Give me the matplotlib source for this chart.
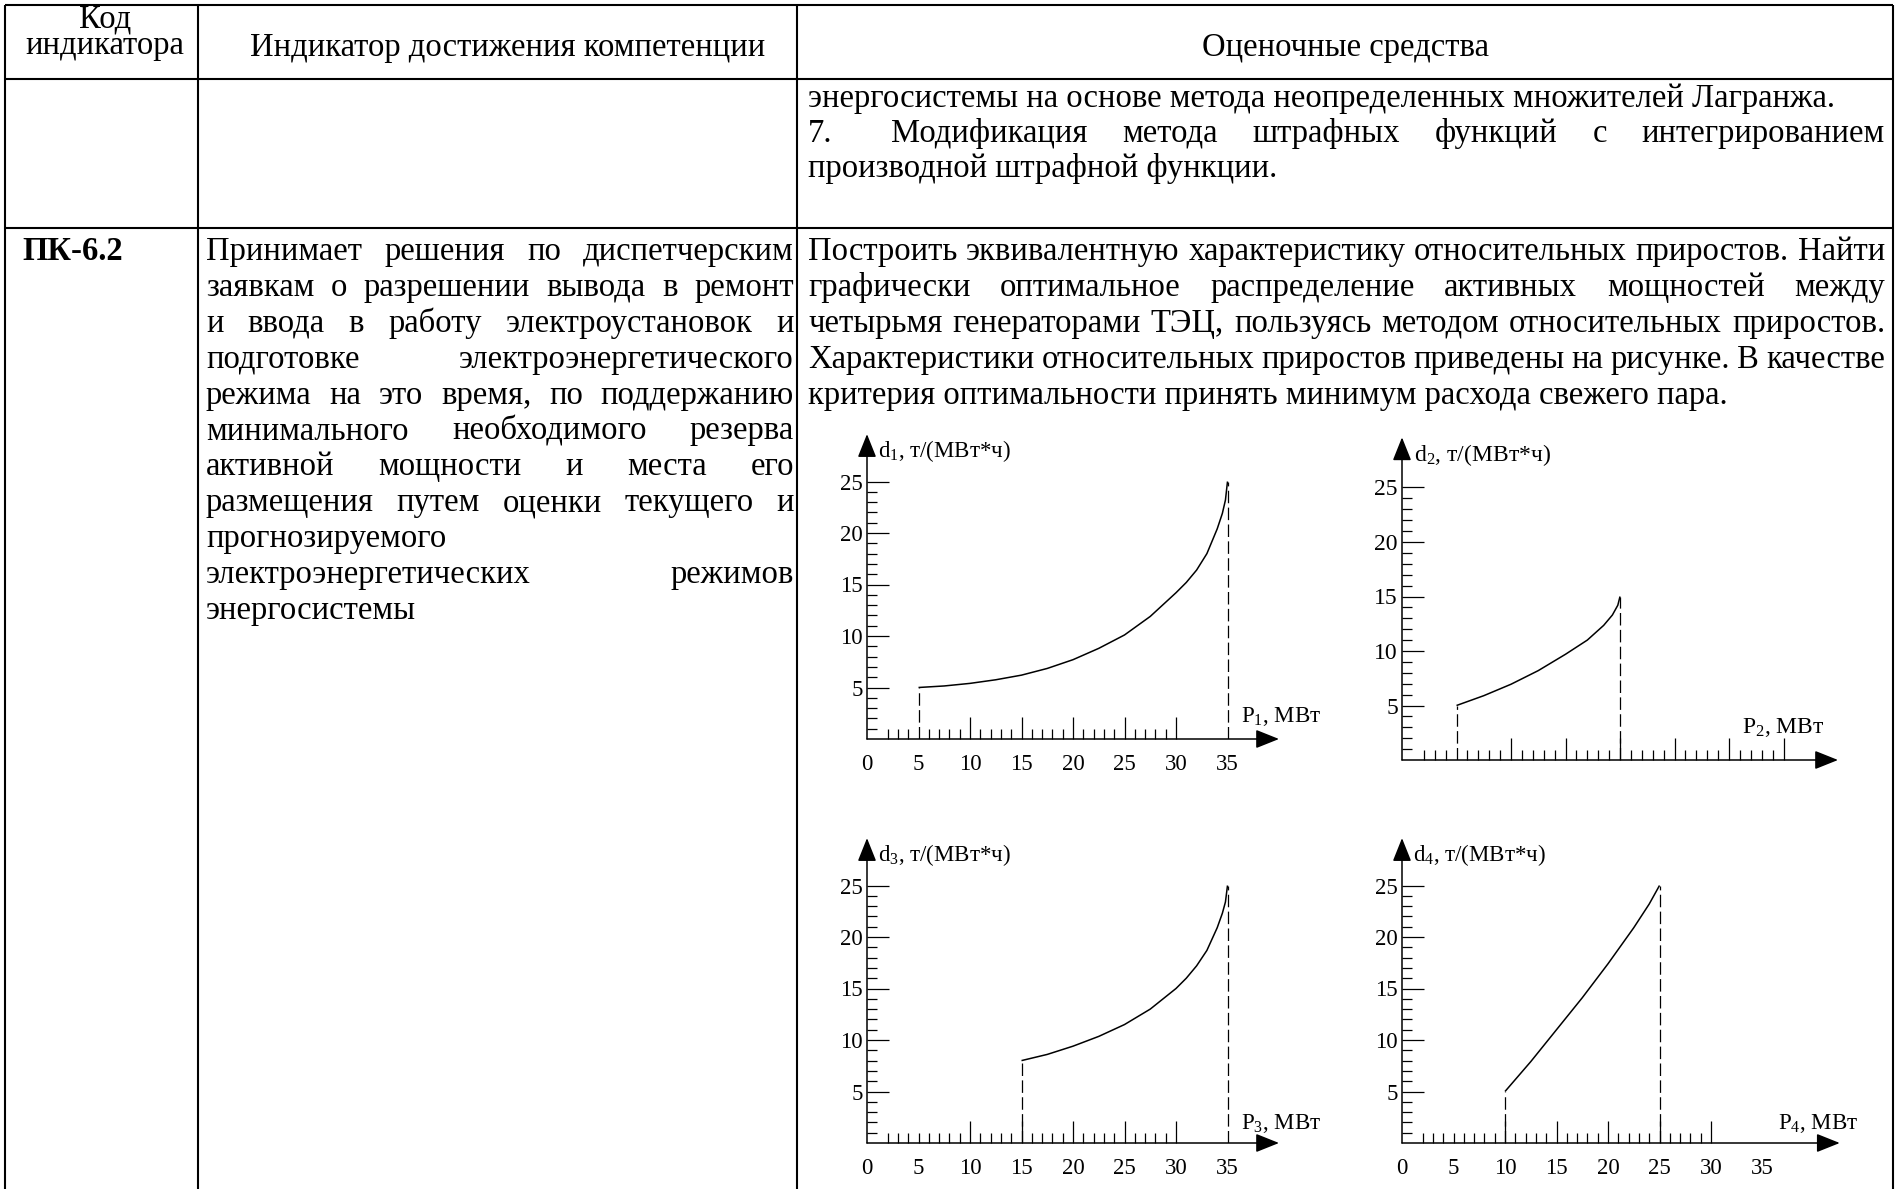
import matplotlib
matplotlib.use('Agg')
import matplotlib.pyplot as plt

W, H, DPI = 1901, 1189, 100

plt.rcParams['font.family'] = ['Liberation Serif', 'DejaVu Serif']
plt.rcParams['mathtext.fontset'] = 'custom'
plt.rcParams['mathtext.rm'] = 'Liberation Serif'
plt.rcParams['mathtext.it'] = 'Liberation Serif:italic'

# ---- table text ----
head_code = ['Код', 'индикатора']
head_ind = 'Индикатор достижения компетенции'
head_eval = 'Оценочные средства'
code = 'ПК-6.2'
# (line, justified?)
row2_eval = [
    ('энергосистемы на основе метода неопределенных множителей Лагранжа.', False),
    ('7.\tМодификация метода штрафных функций с интегрированием', True),
    ('производной штрафной функции.', False),
]
row3_ind = [
    ('Принимает решения по диспетчерским', True),
    ('заявкам о разрешении вывода в ремонт', True),
    ('и ввода в работу электроустановок и', True),
    ('подготовке электроэнергетического', True),
    ('режима на это время, по поддержанию', True),
    ('минимального необходимого резерва', True),
    ('активной мощности и места его', True),
    ('размещения путем оценки текущего и', True),
    ('прогнозируемого', False),
    ('электроэнергетических режимов', True),
    ('энергосистемы', False),
]
row3_eval = [
    ('Построить эквивалентную характеристику относительных приростов. Найти', True),
    ('графически оптимальное распределение активных мощностей между', True),
    ('четырьмя генераторами ТЭЦ, пользуясь методом относительных приростов.', True),
    ('Характеристики относительных приростов приведены на рисунке. В качестве', True),
    ('критерия оптимальности принять минимум расхода свежего пара.', False),
]

# ---- chart data: P (MW) vs d (t/(MW*h)) ----
p1 = [5, 7.5, 10, 12.5, 15, 17.5, 20, 22.5, 25, 27.5, 30, 31, 32, 33, 34, 34.5, 34.8, 35]
d1 = [5, 5.15, 5.4, 5.75, 6.2, 6.85, 7.7, 8.8, 10.1, 11.9, 14.2, 15.2, 16.4, 18.0, 20.4, 21.9, 23.2, 25]
p2 = [5, 7.5, 10, 12.5, 15, 17, 18.5, 19.3, 19.8, 20]
d2 = [5, 5.9, 6.95, 8.2, 9.7, 11.0, 12.35, 13.3, 14.2, 15.0]
p3 = [15, 17.5, 20, 22.5, 25, 27.5, 30, 31, 32, 33, 34, 34.5, 34.8, 35]
d3 = [8, 8.6, 9.4, 10.35, 11.5, 13.0, 15.0, 16.0, 17.2, 18.7, 20.9, 22.3, 23.4, 25]
p4 = [10, 12.5, 15, 17.5, 20, 22.5, 24, 25]
d4 = [5, 7.9, 11.0, 14.1, 17.4, 20.9, 23.2, 25]

x_labels = [0, 5, 10, 15, 20, 25, 30, 35]
y_labels = [5, 10, 15, 20, 25]

FS = 23.5

fig = plt.figure(figsize=(W / DPI, H / DPI), dpi=DPI)
tab = fig.add_axes([0, 0, 1, 1])
tab.set_xlim(0, W)
tab.set_ylim(H, 0)
tab.axis('off')

# table grid
tab.hlines([5, 79, 228], 5, 1893, colors='k', lw=1.5)
tab.vlines([5, 198, 797, 1893], 5, H, colors='k', lw=1.5)

r = fig.canvas.get_renderer()


def put_line(text, x0, x1, y, justify, **kw):
    if not justify:
        tab.text(x0, y, text, ha='left', va='baseline', fontsize=FS, **kw)
        return
    if '\t' in text:
        first, text = text.split('\t')
        tab.text(x0, y, first, ha='left', va='baseline', fontsize=FS, **kw)
        x0 = x0 + 83
    words = text.split()
    arts = [tab.text(0, y, w, ha='left', va='baseline', fontsize=FS, **kw) for w in words]
    widths = [a.get_window_extent(r).width for a in arts]
    gap = (x1 - x0 - sum(widths)) / (len(words) - 1)
    x = x0
    for a, w in zip(arts, widths):
        a.set_x(x)
        x += w + gap


# header
for i, t in enumerate(head_code):
    tab.text(105, 27 + 27 * i, t, ha='center', va='baseline', fontsize=FS)
tab.text(508, 56, head_ind, ha='center', va='baseline', fontsize=FS)
tab.text(1345, 56, head_eval, ha='center', va='baseline', fontsize=FS)

for i, (t, j) in enumerate(row2_eval):
    put_line(t, 808, 1885, 107 + 35 * i, j)

tab.text(22, 260, code, ha='left', va='baseline', fontsize=FS, fontweight='bold')
for i, (t, j) in enumerate(row3_ind):
    put_line(t, 206, 794, 260 + 35.9 * i, j)
for i, (t, j) in enumerate(row3_eval):
    put_line(t, 808, 1885, 260 + 35.9 * i, j)


def draw_chart(ox, oy, s, p, d, n, major, with_labels, fs, x_end, xlab_pos):
    ax = fig.add_axes([ox / W, (H - oy) / H, 44 * s / W, 30 * s / H])
    ax.set_xlim(0, 44)
    ax.set_ylim(0, 30)
    ax.patch.set_alpha(0)
    for sp in ax.spines.values():
        sp.set_visible(False)

    ax.plot(p, d, color='k', lw=1.1, solid_capstyle='butt')
    ax.vlines([p[0], p[-1]], 0, [d[0], d[-1]], colors='k', lw=0.9,
              linestyles=[(0, (10, 3.5))])

    arrow = dict(arrowstyle='-|>,head_length=0.6,head_width=0.24', mutation_scale=24,
                 lw=1.1, color='k', shrinkA=0, shrinkB=0)
    ax.annotate('', xy=(0, 29.6), xytext=(0, 0), arrowprops=arrow, annotation_clip=False)
    ax.annotate('', xy=(x_end, 0), xytext=(0, 0), arrowprops=arrow, annotation_clip=False)

    minor_x = [v for v in range(2, max(major)) if v not in major and v not in (p[0], p[-1])]
    ax.set_xticks(major)
    ax.set_xticks(minor_x, minor=True)
    ax.set_yticks(y_labels)
    ax.set_yticks([v for v in range(1, 25) if v % 5], minor=True)
    ax.tick_params(which='major', direction='in', length=16, width=0.9, color='k')
    ax.tick_params(which='minor', direction='in', length=7.5, width=0.9, color='k')
    ax.tick_params(axis='x', labelbottom=False)
    ax.tick_params(axis='y', labelsize=fs, pad=3)
    for lab in ax.get_yticklabels():
        lab.set_fontfamily('Liberation Serif')

    if with_labels:
        for v in x_labels:
            ax.text(v, -26 / s, str(v), ha='center', va='center', fontsize=fs)
    ax.text(1.1, 28.0, 'd$_{%d}$, т/(МВт*ч)' % n, ha='left', va='center', fontsize=fs)
    ax.text(xlab_pos[0], xlab_pos[1], 'P$_{%d}$, МВт' % n, ha='left', va='center', fontsize=fs)
    return ax


draw_chart(867, 739, 10.3, p1, d1, 1, [10, 15, 20, 25, 30], True, 16.5, 40, (36.3, 2.2))
draw_chart(1402, 760, 10.9, p2, d2, 2, [10, 15, 20, 25, 30, 35], False, 17, 40, (31.2, 3.0))
draw_chart(867, 1143, 10.3, p3, d3, 3, [10, 15, 20, 25, 30], True, 16.5, 40, (36.3, 1.9))
draw_chart(1402, 1143, 10.3, p4, d4, 4, [10, 15, 20, 25, 30], True, 16.5, 42.5, (36.5, 1.9))

fig.savefig('out.png', dpi=DPI)
